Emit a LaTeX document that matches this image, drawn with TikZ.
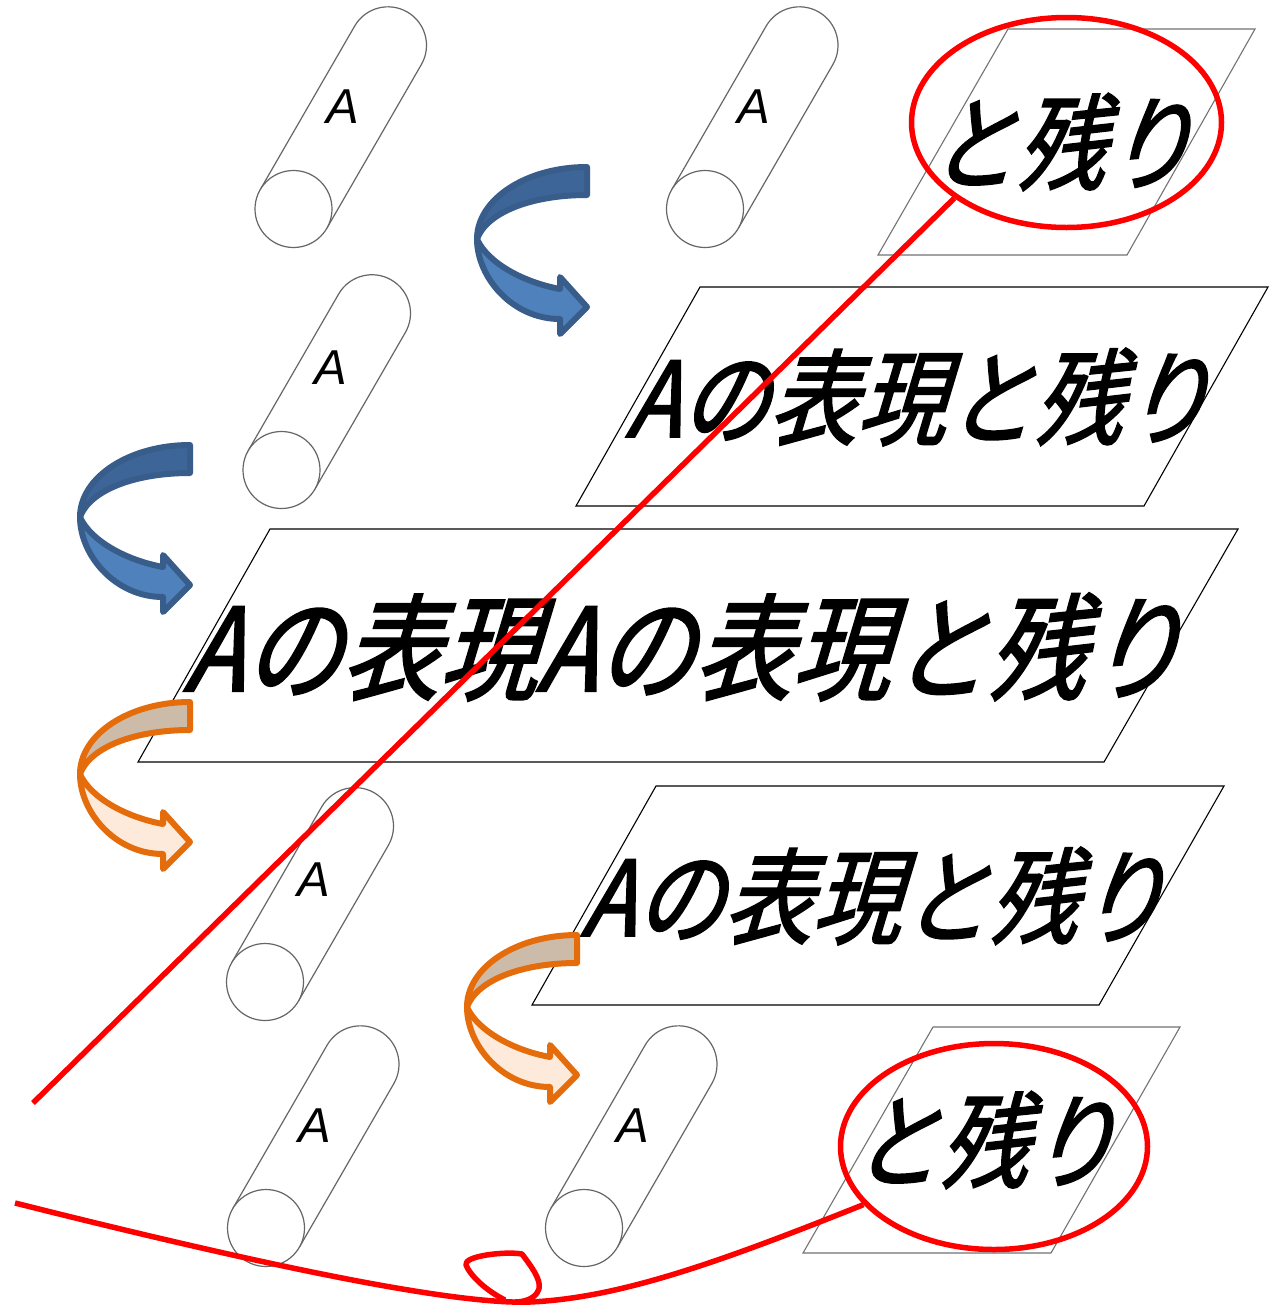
\documentclass[tikz,border=0pt]{standalone}
\usepackage{fontspec}
\usetikzlibrary{shapes.geometric}
\newfontfamily\jpfont[FakeSlant=0.3,FakeStretch=0.85,FakeBold=2]{Noto Sans CJK JP}
\newfontfamily\latfont{Liberation Sans}
\definecolor{bluedark}{HTML}{3D6598}
\definecolor{bluefill}{HTML}{4F81BD}
\definecolor{blueline}{HTML}{385D8A}
\definecolor{orgback}{HTML}{CDBBAA}
\definecolor{orgfill}{HTML}{FDEADA}
\definecolor{orgline}{HTML}{E46C0A}
\tikzset{
  cylline/.style={draw=black!60, line width=1.2pt},
  pgram/.style={draw=black, line width=1.1pt, fill=white},
  pgramlight/.style={draw=black!55, line width=1.1pt, fill=white},
  jptext/.style={font=\jpfont\fontsize{104}{110}\selectfont, inner sep=0pt},
  jpbig/.style={font=\jpfont\fontsize{115}{120}\selectfont, inner sep=0pt},
  redmark/.style={draw=red, line width=5.5pt},
  redring/.style={ellipse, draw=red, line width=5.5pt, inner sep=0pt},
  pics/cyl/.style={code={
    \fill[white] (150:38.5) -- ++(60:#1) arc[start angle=150,end angle=-30,radius=38.5] -- (-30:38.5) -- cycle;
    \draw[cylline] (150:38.5) -- ++(60:#1) arc[start angle=150,end angle=-30,radius=38.5] -- (-30:38.5);
    \draw[cylline, fill=white] (0,0) circle[radius=38.5];
    \node[font=\latfont\itshape\fontsize{49}{50}\selectfont, inner sep=0pt] (-a) at (49,102) {A};
  }},
  pics/carrow/.style n args={3}{code={
    \filldraw[draw=#1, fill=#2, line width=6pt, line join=round]
      (0,0) .. controls (-60.7,0) and (-110,-32.3) .. (-110,-72)
      .. controls (-100,-45) and (-55,-28) .. (0,-28) -- cycle;
    \filldraw[draw=#1, fill=#3, line width=6pt, line join=round]
      (-110,-72) .. controls (-110,-110) and (-75,-152) .. (-27,-152)
      -- (-27,-167) -- (0,-140) -- (-27,-110) -- (-27,-122)
      .. controls (-65,-115) and (-100,-95) .. (-110,-72) -- cycle;
  }}
}
\begin{document}
\begin{tikzpicture}[x=1pt,y=1pt]
\useasboundingbox (0,0) rectangle (1276,-1307);
\fill[white] (0,0) rectangle (1276,-1307);

% parallelograms with text
\draw[pgramlight] (1008,-29) -- (1255,-29) -- (1127,-255) -- (878,-255) -- cycle;
\node[jptext] (p1t) at (1060,-142) {と残り};
\draw[pgram] (700,-287) -- (1268,-287) -- (1144,-506) -- (576,-506) -- cycle;
\node[jptext] (p2t) at (918,-397) {Aの表現と残り};
\draw[pgram] (270,-529) -- (1238,-529) -- (1104,-762) -- (138,-762) -- cycle;
\node[jpbig] (p3t) at (683,-647) {Aの表現Aの表現と残り};
\draw[pgram] (656,-786) -- (1224,-786) -- (1099,-1005) -- (532,-1005) -- cycle;
\node[jptext] (p4t) at (873,-896) {Aの表現と残り};
\draw[pgramlight] (933,-1027) -- (1180,-1027) -- (1051,-1253) -- (803,-1253) -- cycle;
\node[jptext] (p5t) at (983,-1140) {と残り};

% cylinders
\pic (c1) at (293.5,-209) {cyl=189};
\pic (c2) at (705,-209) {cyl=189};
\pic (c3) at (281.5,-470) {cyl=181};
\pic (c4) at (265,-982) {cyl=180};
\pic (c5) at (266,-1228) {cyl=189};
\pic (c6) at (584,-1228) {cyl=189};

% curved arrows
\pic (b1) at (587,-167) {carrow={blueline}{bluedark}{bluefill}};
\pic (b2) at (190,-445) {carrow={blueline}{bluedark}{bluefill}};
\pic (o1) at (190,-702) {carrow={orgline}{orgback}{orgfill}};
\pic (o2) at (577,-935) {carrow={orgline}{orgback}{orgfill}};

% red marks
\node[redring, minimum width=310pt, minimum height=210pt] (e1) at (1066.5,-122.5) {};
\node[redring, minimum width=307pt, minimum height=206pt] (e2) at (994,-1146.5) {};
\coordinate (rs) at (33,-1103);
\draw[redmark] (rs) -- (e1.214);
\coordinate (bs) at (15,-1203);
\draw[redmark] (bs) .. controls (250,-1262) and (450,-1305) .. (530,-1302)
  .. controls (620,-1298) and (720,-1262) .. (e2.204);
\coordinate (lp) at (505,-1300);
\draw[redmark, line join=round] (lp) .. controls (485,-1290) and (470,-1275) .. (466,-1265)
  .. controls (463,-1256) and (505,-1251) .. (522,-1254)
  .. controls (530,-1265) and (545,-1283) .. (537,-1293)
  .. controls (532,-1300) and (522,-1302) .. (515,-1302);
\end{tikzpicture}
\end{document}
